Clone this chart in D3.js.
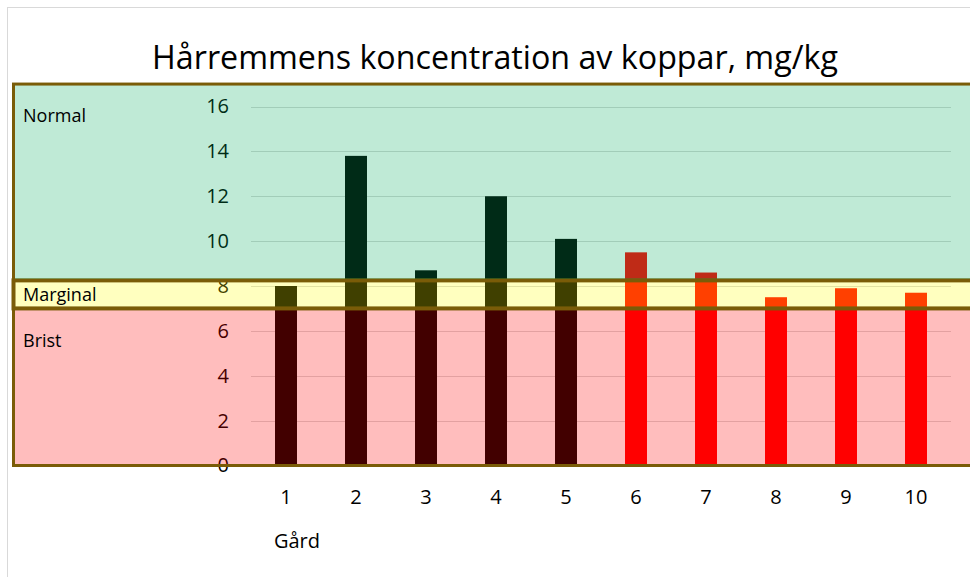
<!DOCTYPE html>
<html>
<head>
<meta charset="utf-8">
<script src="https://cdn.jsdelivr.net/npm/d3@7"></script>
<style>
  html, body { margin: 0; padding: 0; background: #ffffff; }
  svg { display: block; }
  text { font-family: "Open Sans", "Noto Sans", sans-serif; }
</style>
</head>
<body>
<svg id="chart" width="970" height="577"></svg>
<script>
// ---- data ----
const farms = ["1", "2", "3", "4", "5", "6", "7", "8", "9", "10"];
const copper = [8.0, 13.8, 8.7, 12.0, 10.1, 9.5, 8.6, 7.5, 7.9, 7.7];
const farmGroup = ["A", "A", "A", "A", "A", "B", "B", "B", "B", "B"];
const bandNames = ["Brist", "Marginal", "Normal"];
const bandLow = [0, 7, 8.25];
const bandHigh = [7, 8.25, 17];
const yTicks = [0, 2, 4, 6, 8, 10, 12, 14, 16];
const chartTitle = "Hårremmens koncentration av koppar, mg/kg";
const xTitle = "Gård";

// ---- layout ----
const svg = d3.select("#chart");
const plotLeft = 251, plotRight = 951;
const yZero = 465.5, ySixteen = 106.5;

const x = d3.scaleBand().domain(farms).range([plotLeft, plotRight]).paddingInner(0.686).paddingOuter(0.343);
const y = d3.scaleLinear().domain([0, 16]).range([yZero, ySixteen]);

const barColor = d3.scaleOrdinal().domain(["A", "B"]).range(["#000000", "#ff0000"]);
const bandColor = d3.scaleOrdinal().domain(bandNames).range(["rgb(255,0,0)", "rgb(255,255,0)", "rgb(0,170,92)"]);
const bandAlpha = d3.scaleOrdinal().domain(bandNames).range([0.26, 0.25, 0.25]);

// outer chart border
svg.append("rect").attr("x", 7.5).attr("y", 7.5).attr("width", 1000).attr("height", 1000)
  .attr("fill", "#ffffff").attr("stroke", "#d9d9d9").attr("stroke-width", 1);

// title
const title = svg.append("text").attr("x", 495).attr("y", 69).attr("text-anchor", "middle")
  .attr("font-size", 30).attr("fill", "#000").text(chartTitle);
const tw = title.node().getComputedTextLength();
title.attr("font-size", 30 * 686 / tw);

// gridlines
svg.append("g").selectAll("line").data(yTicks.filter(d => d > 0)).join("line")
  .attr("x1", plotLeft).attr("x2", plotRight)
  .attr("y1", d => Math.round(y(d)) + 0.5).attr("y2", d => Math.round(y(d)) + 0.5)
  .attr("stroke", "#d9d9d9").attr("stroke-width", 1);

// y axis labels
const yAxis = svg.append("g").attr("transform", `translate(${plotLeft},0)`)
  .call(d3.axisLeft(y).tickValues(yTicks).tickSize(0).tickPadding(22).tickFormat(d3.format("d")));
yAxis.select(".domain").remove();
yAxis.selectAll("text").attr("font-size", 20).attr("fill", "#000").attr("font-family", "Open Sans, sans-serif");

// x axis labels
const xAxis = svg.append("g").attr("transform", `translate(0,${yZero})`)
  .call(d3.axisBottom(x).tickSize(0));
xAxis.select(".domain").remove();
xAxis.selectAll("text").attr("y", 31).attr("dy", "0.35em").attr("font-size", 20)
  .attr("fill", "#000").attr("font-family", "Open Sans, sans-serif");

// x title
svg.append("text").attr("x", 297).attr("y", 541).attr("dy", "0.35em").attr("text-anchor", "middle")
  .attr("font-size", 20).attr("fill", "#000").text(xTitle);

// bars
svg.append("g").selectAll("rect").data(farms).join("rect")
  .attr("x", (d) => x(d))
  .attr("width", x.bandwidth())
  .attr("y", (d, i) => y(copper[i]))
  .attr("height", (d, i) => y(0) - y(copper[i]))
  .attr("fill", (d, i) => barColor(farmGroup[i]));

// translucent band overlays
svg.append("g").selectAll("rect").data(bandNames).join("rect")
  .attr("x", 13.5).attr("width", 1000)
  .attr("y", (d, i) => y(bandHigh[i]))
  .attr("height", (d, i) => y(bandLow[i]) - y(bandHigh[i]))
  .attr("fill", d => bandColor(d)).attr("fill-opacity", d => bandAlpha(d))
  .attr("stroke", "#7a5c08").attr("stroke-width", d => d === "Marginal" ? 4 : 3);

// band labels
const bandLabelY = [y(bandHigh[0]) + 32, (y(bandLow[1]) + y(bandHigh[1])) / 2, y(bandHigh[2]) + 32];
svg.append("g").selectAll("text").data(bandNames).join("text")
  .attr("x", 23).attr("y", (d, i) => bandLabelY[i]).attr("dy", "0.35em")
  .attr("font-size", 18).attr("fill", "#000").text(d => d);
</script>
</body>
</html>
